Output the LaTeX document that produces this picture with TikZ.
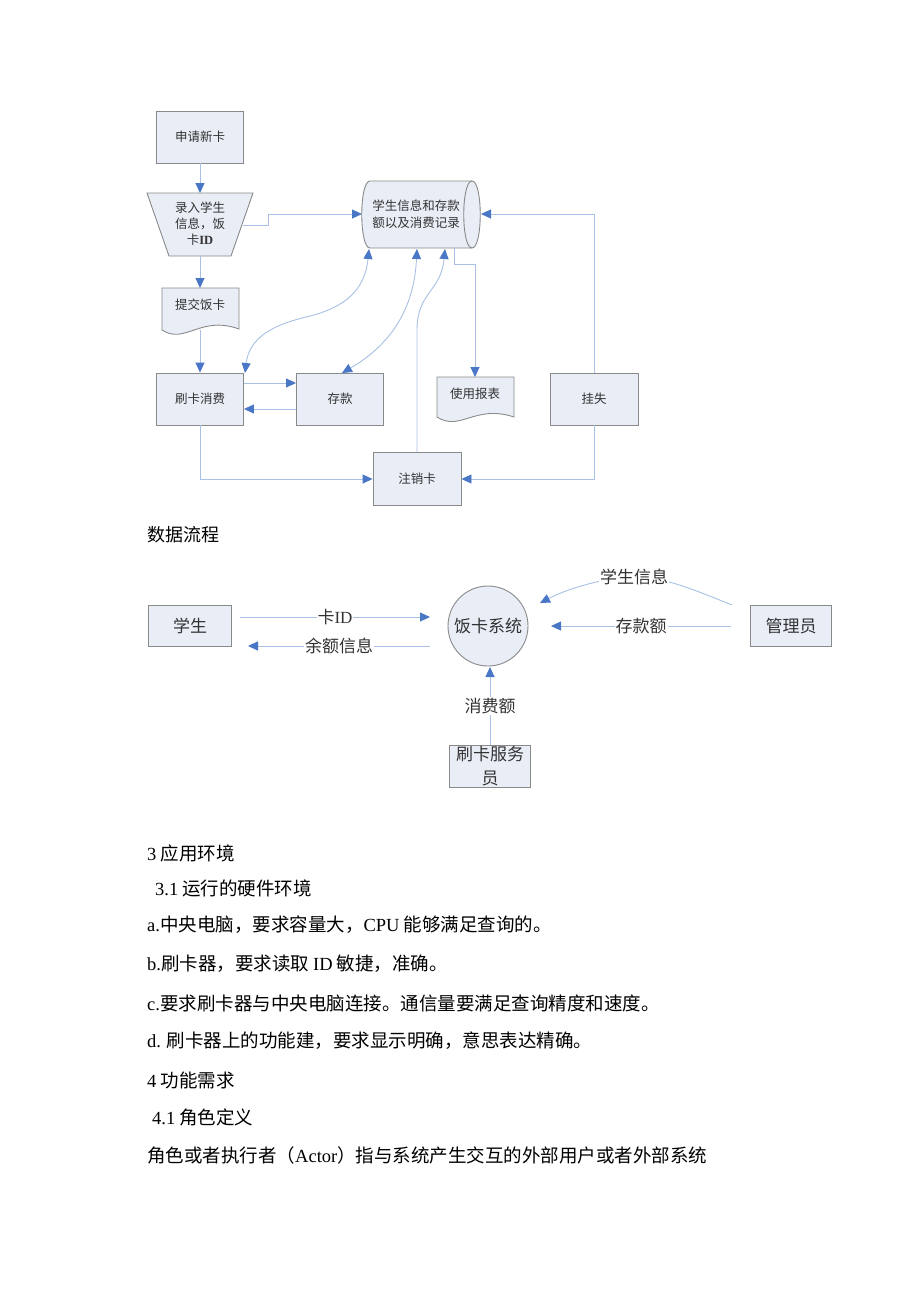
\documentclass[tikz,border=0pt]{standalone}
\usepackage{fontspec}
\setmainfont{Noto Sans CJK SC}
\newfontfamily\lat{Liberation Serif}
\usetikzlibrary{arrows.meta,calc}
\definecolor{boxfill}{HTML}{E8EDF6}
\definecolor{boxline}{HTML}{8A8A8A}
\definecolor{linec}{HTML}{A9C0E4}
\definecolor{tipc}{HTML}{4A76C6}
\definecolor{txt}{HTML}{333333}
\begin{document}
\begin{tikzpicture}[x=1pt,y=-1pt,
 box/.style={draw=boxline,fill=boxfill,line width=0.9pt,inner sep=0pt,align=center,text=txt,font=\fontsize{12.5}{16}\selectfont},
 shapeline/.style={draw=boxline,fill=boxfill,line width=0.9pt},
 ftext/.style={inner sep=0pt,align=center,text=txt,font=\fontsize{12.5}{16}\selectfont},
 dbox/.style={box,font=\fontsize{17}{24}\selectfont},
 conn/.style={draw=linec,line width=0.9pt},
 arr/.style={conn,-{Triangle[length=10pt,width=9pt,color=tipc]}},
 darr/.style={conn,{Triangle[length=10pt,width=9pt,color=tipc]}-{Triangle[length=10pt,width=9pt,color=tipc]}},
 lbl/.style={fill=white,inner sep=1pt,text=txt,font=\fontsize{17}{19}\selectfont},
 body/.style={anchor=west,inner sep=0pt,font=\fontsize{18.5}{20}\selectfont}
]
\fill[white] (0,0) rectangle (920,1302);
\useasboundingbox (0,0) rectangle (920,1302);

% ---------- flowchart ----------
\node[box,minimum width=87pt,minimum height=52pt] (new) at (200,137) {申请新卡};

\draw[shapeline] (147,193) -- (253,193) -- (231,256) -- (169,256) -- cycle;
\node[ftext] (trap) at (200,224) {录入学生\\信息，饭\\卡{\lat\bfseries ID}};
\coordinate (trapT) at (200,193);
\coordinate (trapB) at (200,256);
\coordinate (trapR) at (243,225);

\draw[shapeline] (162,288) -- (239,288) -- (239,329) .. controls (200,315) and (185,345) .. (162,330) -- cycle;
\node[ftext] (sub) at (200,305) {提交饭卡};
\coordinate (subT) at (200,288);
\coordinate (subB) at (200,330);

\draw[shapeline] (370,181) -- (472,181) .. controls (483,181) and (483,248) .. (472,248) -- (370,248) .. controls (359,248) and (359,181) .. (370,181) -- cycle;
\draw[draw=boxline,line width=0.9pt] (472,181) .. controls (461,181) and (461,248) .. (472,248);
\node[ftext,font=\fontsize{12.5}{17}\selectfont] (db) at (416,214) {学生信息和存款\\额以及消费记录};
\coordinate (dbW) at (362,214);
\coordinate (dbE) at (481,214);
\coordinate (dbB1) at (369,249);
\coordinate (dbB2) at (417,249);
\coordinate (dbB3) at (445,249);
\coordinate (dbB4) at (454,248);

\node[box,minimum width=87pt,minimum height=52pt] (swipe) at (200,399) {刷卡消费};
\node[box,minimum width=87pt,minimum height=52pt] (dep) at (340,399) {存款};
\node[box,minimum width=88pt,minimum height=52pt] (loss) at (594,399) {挂失};
\node[box,minimum width=88pt,minimum height=53pt] (cancel) at (417,479) {注销卡};

\draw[shapeline] (437,377) -- (514,377) -- (514,417) .. controls (475,404) and (460,432) .. (437,417) -- cycle;
\node[ftext] (rep) at (475,394) {使用报表};
\coordinate (repT) at (475,377);

% connectors
\draw[arr] (new.south) -- (trapT);
\draw[arr] (trapB) -- (subT);
\draw[arr] (subB) -- (swipe.north);
\draw[arr] (trapR) -- (268,225) -- (268,214) -- (dbW);
\draw[arr] (loss.north) |- (dbE);
\draw[arr] (dbB4) -- (454,264) -- (475,264) -- (repT);
\coordinate (swTop) at (245,373);
\draw[darr] (swTop) .. controls (250,330) and (290,321) .. (310,316) .. controls (345,307) and (365,290) .. (dbB1);
\coordinate (depTop) at (342,373);
\draw[darr] (depTop) .. controls (390,345) and (414,310) .. (dbB2);
\draw[arr] (cancel.north) -- (417,330) .. controls (417,292) and (441,292) .. (dbB3);
\draw[arr] (swipe.south) |- (cancel.west);
\draw[arr] (loss.south) |- (cancel.east);
\draw[arr] ($(swipe.east)+(0,-16)$) -- ($(dep.west)+(0,-16)$);
\draw[arr] ($(dep.west)+(0,10)$) -- ($(swipe.east)+(0,10)$);

\node[anchor=west,inner sep=0pt,font=\fontsize{18}{20}\selectfont] (cap) at (147,535) {数据流程};

% ---------- data flow ----------
\node[dbox,minimum width=83pt,minimum height=41pt] (stu) at (190,626) {学生};
\node[circle,draw=boxline,fill=boxfill,line width=0.9pt,minimum size=80pt,inner sep=0pt,text=txt,font=\fontsize{17}{19}\selectfont] (sys) at (488,626) {饭卡系统};
\node[dbox,minimum width=81pt,minimum height=41pt] (adm) at (791,626) {管理员};
\node[dbox,minimum width=81pt,minimum height=42pt] (clerk) at (490,766) {刷卡服务\\员};

\coordinate (a1s) at (240,617);
\coordinate (a1e) at (430,617);
\draw[arr] (a1s) -- node[lbl,pos=0.5] {卡{\lat ID}} (a1e);
\coordinate (a2s) at (430,646);
\coordinate (a2e) at (248,646);
\draw[arr] (a2s) -- node[lbl,pos=0.5] {余额信息} (a2e);
\coordinate (a3s) at (731,626);
\coordinate (a3e) at (551,626);
\draw[arr] (a3s) -- node[lbl,pos=0.5] {存款额} (a3e);
\coordinate (a4s) at (732,605);
\coordinate (a4e) at (540,603);
\draw[arr] (a4s) .. controls (690,588) and (660,576) .. (634,577) node[lbl] {学生信息} .. controls (600,578) and (565,590) .. (a4e);
\coordinate (a5e) at (490,667);
\draw[arr] (clerk.north) -- node[lbl,pos=0.5] {消费额} (a5e);

% ---------- body text ----------
\node[body] (t1) at (147,853) {{\lat 3} 应用环境};
\node[body] (t2) at (155,888) {{\lat 3.1} 运行的硬件环境};
\node[body] (t3) at (147,925) {{\lat a.}中央电脑，要求容量大，{\lat CPU} 能够满足查询的。};
\node[body] (t4) at (147,964) {{\lat b.}刷卡器，要求读取 {\lat ID} 敏捷，准确。};
\node[body] (t5) at (147,1003) {{\lat c.}要求刷卡器与中央电脑连接。通信量要满足查询精度和速度。};
\node[body] (t6) at (147,1041) {{\lat d.} 刷卡器上的功能建，要求显示明确，意思表达精确。};
\node[body] (t7) at (147,1080) {{\lat 4} 功能需求};
\node[body] (t8) at (152,1117) {{\lat 4.1} 角色定义};
\node[body] (t9) at (147,1155) {角色或者执行者（{\lat Actor}）指与系统产生交互的外部用户或者外部系统};
\end{tikzpicture}
\end{document}
